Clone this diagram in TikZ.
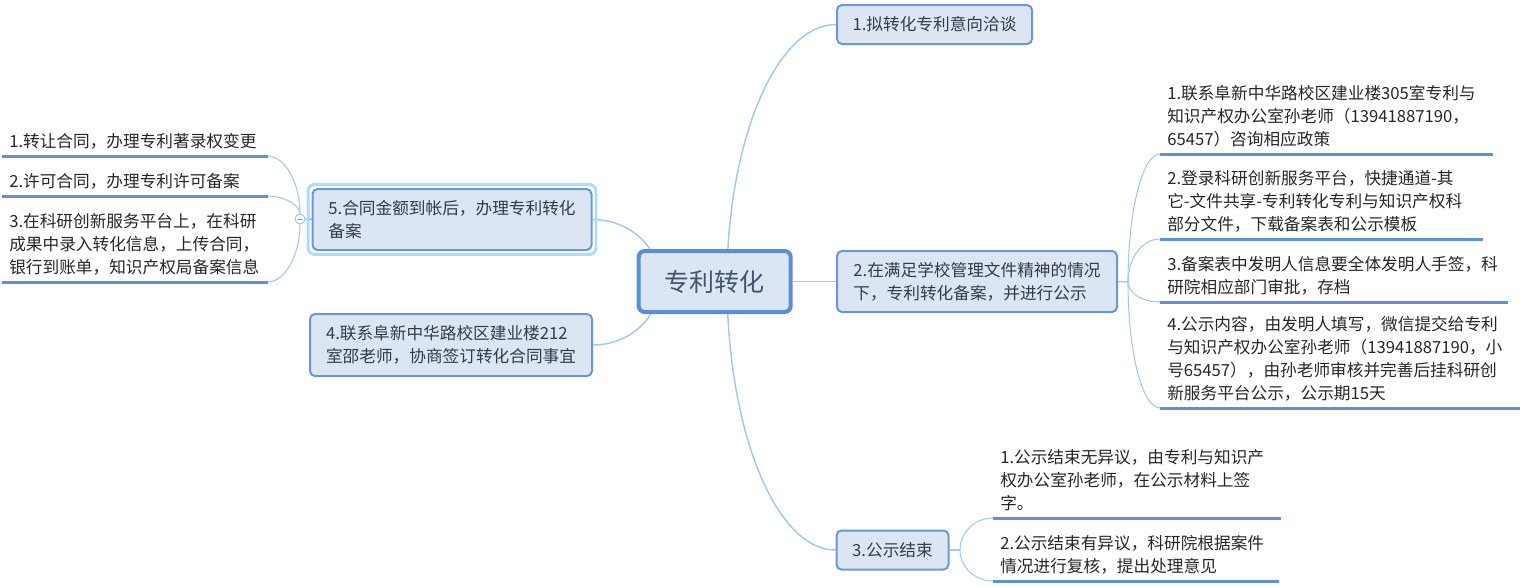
\documentclass[tikz,border=0pt]{standalone}
\usepackage{fontspec}
\setmainfont{Noto Sans CJK SC}
\usetikzlibrary{backgrounds,fit}
\definecolor{boxfill}{HTML}{DCE6F3}
\definecolor{boxline}{HTML}{6A97D6}
\definecolor{rootline}{HTML}{5B8CD5}
\definecolor{linkblue}{HTML}{A6C7EC}
\definecolor{ulblue}{HTML}{5E91D6}
\definecolor{glowblue}{HTML}{A9DDFB}
\definecolor{boxtext}{HTML}{333B48}
\definecolor{roottext}{HTML}{44546E}
\begin{document}
\begin{tikzpicture}[x=0.75pt, y=-0.75pt,
        topic/.style={draw=boxline, line width=1.5pt, fill=boxfill, rounded corners=3.75pt, align=left, text=boxtext, font=\fontsize{12.5}{17.25}\selectfont},
        root/.style={draw=rootline, line width=3pt, fill=boxfill, rounded corners=4.5pt, text=roottext, font=\fontsize{18.75}{22}\selectfont, minimum width=114pt, minimum height=45.75pt},
        leaf/.style={anchor=south west, align=left, inner xsep=5.25pt, inner ysep=5pt, text=black!85, font=\fontsize{12.5}{17.25}\selectfont},
        link/.style={draw=linkblue, line width=1.1pt},
        twig/.style={draw=linkblue, line width=0.8pt},
        uline/.style={draw=ulblue, line width=2.25pt},
        glow/.style={draw=glowblue, line width=2.2pt, rounded corners=5pt, inner sep=2.6pt},
        fold/.style={circle, draw=linkblue, fill=white, line width=0.8pt, minimum size=7.5pt, inner sep=0pt}]
    \useasboundingbox (0,0) rectangle (1520,586);
    \node[root] (root) at (714.7,281.5) {专利转化};
    \node[topic, minimum width=146.25pt, minimum height=29.25pt] (t1) at (934.5,24.5) {1.拟转化专利意向洽谈};
    \node[topic, minimum width=210pt, minimum height=45.75pt] (t2) at (977,281.5) {2.在满足学校管理文件精神的情况\\下，专利转化备案，并进行公示};
    \node[topic, minimum width=84pt, minimum height=29.25pt] (t3) at (892.5,550) {3.公示结束};
    \node[topic, minimum width=211.5pt, minimum height=46.5pt] (t4) at (451,345) {4.联系阜新中华路校区建业楼212\\室邵老师，协商签订转化合同事宜};
    \node[topic, minimum width=209.25pt, minimum height=45.75pt] (t5) at (452,219.5) {5.合同金额到帐后，办理专利转化\\备案};
    \node[glow, fit=(t5)] (t5glow) {};

    \node[leaf, text width=238.5pt] (a1) at (1160,154) {1.联系阜新中华路校区建业楼305室专利与\\知识产权办公室孙老师（13941887190，\\65457）咨询相应政策};
    \node[leaf, text width=231pt] (a2) at (1160,239) {2.登录科研创新服务平台，快捷通道-其\\它-文件共享-专利转化专利与知识产权科\\部分文件，下载备案表和公示模板};
    \node[leaf, text width=249.75pt] (a3) at (1160,302) {3.备案表中发明人信息要全体发明人手签，科\\研院相应部门审批，存档};
    \node[leaf, text width=261pt] (a4) at (1160,408) {4.公示内容，由发明人填写，微信提交给专利\\与知识产权办公室孙老师（13941887190，小\\号65457），由孙老师审核并完善后挂科研创\\新服务平台公示，公示期15天};
    \node[leaf, text width=204.75pt] (b1) at (993,518) {1.公示结束无异议，由专利与知识产\\权办公室孙老师，在公示材料上签\\字。};
    \node[leaf, text width=203.25pt] (b2) at (993,581) {2.公示结束有异议，科研院根据案件\\情况进行复核，提出处理意见};
    \node[leaf, text width=188.25pt] (c1) at (2,156) {1.转让合同，办理专利著录权变更};
    \node[leaf, text width=188.25pt] (c2) at (2,196) {2.许可合同，办理专利许可备案};
    \node[leaf, text width=188.25pt] (c3) at (2,282) {3.在科研创新服务平台上，在科研\\成果中录入转化信息，上传合同，\\银行到账单，知识产权局备案信息};
    \foreach \n in {a1,a2,a3,a4,b1,b2,c1,c2,c3}
        \draw[uline] (\n.south west) -- (\n.south east);

    \node[fold] (fold) at (300,219) {};
    \draw[draw=boxfill!20!boxline, line width=0.6pt] ([xshift=-2pt]fold.center) -- ([xshift=2pt]fold.center);
    \coordinate (rootR) at (727,282);
    \coordinate (rootL) at (660,282);
    \coordinate (hub2) at (1128,282);
    \coordinate (hub3) at (960,550);

    \begin{scope}[on background layer]
        \draw[link] (root.east) -- (t2.west);
        \draw[link] (rootR) .. controls +(0,-140) and +(-60,0) .. (t1.west);
        \draw[link] (rootR) .. controls +(0,148) and +(-60,0) .. (t3.west);
        \draw[link] (rootL) .. controls +(0,-35) and +(37,0) .. (t5.east);
        \draw[link] (rootL) .. controls +(0,35) and +(37,0) .. (t4.east);
        \draw[link] (t2.east) -- (hub2);
        \draw[twig] (hub2) .. controls +(0,-70) and +(-18,0) .. (a1.south west);
        \draw[twig] (hub2) .. controls +(0,-24) and +(-18,0) .. (a2.south west);
        \draw[twig] (hub2) .. controls +(0,11) and +(-18,0) .. (a3.south west);
        \draw[twig] (hub2) .. controls +(0,69) and +(-18,0) .. (a4.south west);
        \draw[link] (t3.east) -- (hub3);
        \draw[twig] (hub3) .. controls +(0,-18) and +(-18,0) .. (b1.south west);
        \draw[twig] (hub3) .. controls +(0,17) and +(-18,0) .. (b2.south west);
        \draw[link, draw=boxline] (t5.west) -- (fold);
        \draw[twig] (fold) .. controls +(0,-35) and +(18,0) .. (c1.south east);
        \draw[twig] (fold) .. controls +(0,-13) and +(18,0) .. (c2.south east);
        \draw[twig] (fold) .. controls +(0,35) and +(18,0) .. (c3.south east);
    \end{scope}
\end{tikzpicture}
\end{document}
